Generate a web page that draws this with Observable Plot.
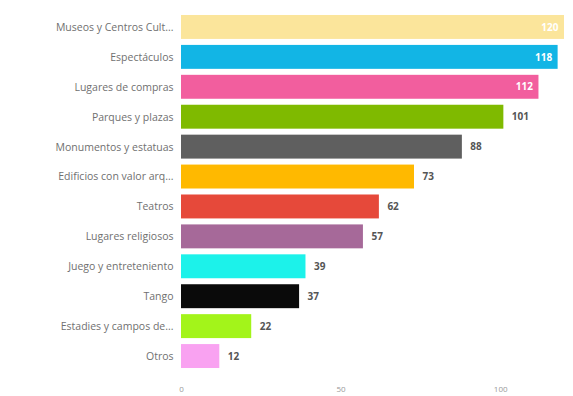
<!DOCTYPE html>
<html>
<head>
<meta charset="utf-8">
<script src="https://cdn.jsdelivr.net/npm/d3@7"></script>
<script src="https://cdn.jsdelivr.net/npm/@observablehq/plot@0.6"></script>
<style>
  body { margin: 0; background: #fff; }
  #chart { width: 573px; height: 396px; }
</style>
</head>
<body>
<div id="chart"></div>
<script>
const categories = [
  "Museos y Centros Cult...",
  "Espectáculos",
  "Lugares de compras",
  "Parques y plazas",
  "Monumentos y estatuas",
  "Edificios con valor arq...",
  "Teatros",
  "Lugares religiosos",
  "Juego y entreteniento",
  "Tango",
  "Estadies y campos de...",
  "Otros"
];
const values = [120, 118, 112, 101, 88, 73, 62, 57, 39, 37, 22, 12];
const colors = ["#FBE59B", "#12B5E5", "#F25E9E", "#7FBA00", "#5F5F5F", "#FFB900", "#E6493A", "#A66999", "#1CF2EA", "#0A0A0A", "#A3F41A", "#F9A2F1"];
const insideLabels = [true, true, true, false, false, false, false, false, false, false, false, false];
const xTicks = [0, 50, 100];

const data = categories.map((c, i) => ({cat: c, value: values[i], color: colors[i], inside: insideLabels[i]}));

const chart = Plot.plot({
  width: 573,
  height: 396,
  marginLeft: 181,
  marginRight: 9,
  marginTop: 12,
  marginBottom: 25,
  style: {fontFamily: "'Open Sans', sans-serif", background: "#fff"},
  x: {domain: [0, 120], axis: null},
  y: {domain: categories, paddingInner: 0.2, paddingOuter: 0.1, round: false, axis: null},
  marks: [
    Plot.barX(data, {y: "cat", x: "value", fill: "color"}),
    Plot.axisY({tickSize: 0, tickPadding: 8, fontSize: 10.5, color: "#707070", label: null}),
    Plot.axisX({ticks: xTicks, tickSize: 0, tickPadding: 15, fontSize: 8, color: "#999", label: null}),
    Plot.text(data.filter(d => d.inside), {y: "cat", x: "value", text: d => String(d.value), textAnchor: "end", dx: -6, fill: "white", fontWeight: "bold", fontSize: 10}),
    Plot.text(data.filter(d => !d.inside), {y: "cat", x: "value", text: d => String(d.value), textAnchor: "start", dx: 8, fill: "#555", fontWeight: "bold", fontSize: 10})
  ]
});
document.getElementById("chart").appendChild(chart);
</script>
</body>
</html>
